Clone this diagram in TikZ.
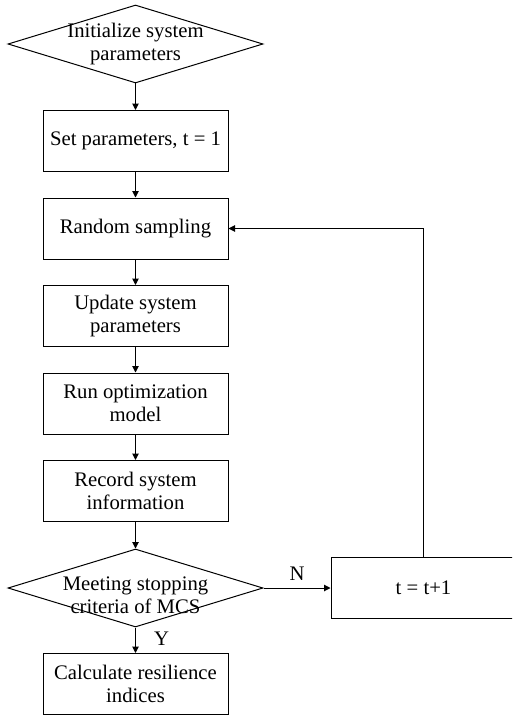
\documentclass[tikz,border=0pt]{standalone}
\usepackage{fontspec}
\setmainfont{Liberation Serif}
\usetikzlibrary{shapes.geometric,arrows.meta}
\begin{document}
\begin{tikzpicture}[x=1pt,y=-1pt,
  every node/.style={font=\fontsize{20.7}{23}\selectfont},
  procbox/.style={draw,line width=1pt,minimum width=185pt,minimum height=61pt,align=center,inner sep=0pt},
  decision/.style={draw,line width=1pt,shape=diamond,minimum width=255pt,minimum height=78pt,aspect=3.27,inner sep=0pt},
  dtext/.style={align=center,inner sep=0pt},
  arr/.style={line width=1pt,-{Triangle[length=6.5pt,width=6.5pt]}},
  lbl/.style={inner sep=0pt}]
\clip (0,0) rectangle (512,717);
\useasboundingbox (0,0) rectangle (512,717);
\node[decision,label={[dtext,yshift=0pt]center:Initialize system\\parameters}] (init) at (135.5,44) {};
\node[procbox] (set) at (135.5,141) {Set parameters, t = 1};
\node[procbox] (rs) at (135.5,228.5) {Random sampling};
\node[procbox] (upd) at (135.5,316) {Update system\\parameters};
\node[procbox] (run) at (135.5,403.5) {Run optimization\\model};
\node[procbox] (rec) at (135.5,491) {Record system\\information};
\node[decision,label={[dtext,yshift=-7pt]center:Meeting stopping\\criteria of MCS}] (stop) at (135.5,588) {};
\node[procbox] (calc) at (135.5,684) {Calculate resilience\\indices};
\node[procbox] (inc) at (423.5,588) {t = t+1};
\draw[arr] (init) -- (set);
\draw[arr] (set) -- (rs);
\draw[arr] (rs) -- (upd);
\draw[arr] (upd) -- (run);
\draw[arr] (run) -- (rec);
\draw[arr] (stop) -- node[lbl,pos=0.45,xshift=26pt]{Y} (calc);
\draw[arr] (rec) -- (stop);
\draw[arr] (stop) -- node[lbl,pos=0.5,yshift=14pt,xshift=-0pt]{N} (inc);
\draw[arr] (inc.north) |- (rs.east);
\end{tikzpicture}
\end{document}
